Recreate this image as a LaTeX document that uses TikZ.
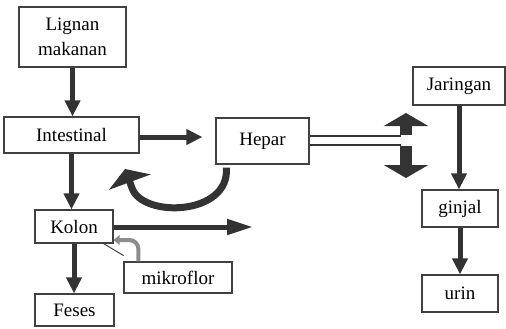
\documentclass[tikz,border=0pt]{standalone}
\usepackage{fontspec}
\setmainfont{Liberation Serif}
\usetikzlibrary{arrows.meta,calc}

\begin{document}
\begin{tikzpicture}[
  x=1pt, y=-1pt,
  font=\fontsize{19}{25}\selectfont,
  box/.style={draw=black!75, line width=1.2pt, align=center, inner sep=0pt},
  arrow/.style={-{Triangle[width=15pt,length=16pt]}, line width=5pt, draw=black!80},
  bigtip/.style={-{Triangle[width=44pt,length=13pt]}, line width=12pt, draw=black!80},
  curve/.style={-{Triangle[width=44pt,length=14pt]}, line width=7pt, draw=black!80},
  pipe/.style={line width=2pt, draw=black!80},
  flor/.style={-{Triangle[width=10pt,length=6pt]}, line width=4pt, draw=black!45, rounded corners=9pt},
  pointer/.style={draw=black!75, line width=1pt}
]
\useasboundingbox (0,0) rectangle (506,329);

% left column
\node[box, minimum width=107pt, minimum height=60pt] (Lignan) at (72.5,37) {Lignan\\makanan};
\node[box, minimum width=135pt, minimum height=36pt] (Intestinal) at (71.5,135) {Intestinal};
\node[box, minimum width=78pt, minimum height=33pt] (Kolon) at (74,226.5) {Kolon};
\node[box, minimum width=79pt, minimum height=32pt] (Feses) at (74.5,310) {Feses};
\node[box, minimum width=108pt, minimum height=31pt] (Mikroflor) at (178,277.5) {mikroflor};

% middle and right
\node[box, minimum width=93pt, minimum height=46pt] (Hepar) at (262.5,141) {Hepar};
\node[box, minimum width=92pt, minimum height=38pt] (Jaringan) at (459,86) {Jaringan};
\node[box, minimum width=76pt, minimum height=37pt] (Ginjal) at (460,208.5) {ginjal};
\node[box, minimum width=76pt, minimum height=37pt] (Urin) at (460,293.5) {urin};

\coordinate (KolonEnd) at (253,227);
\coordinate (BackTip) at (125,169);
\coordinate (UpFoot) at (406,136);
\coordinate (UpTip) at (406,113);
\coordinate (DownFoot) at (406,145);
\coordinate (DownTip) at (406,178);

\draw[arrow] (Lignan.south) -- (Lignan.south |- Intestinal.north);
\draw[arrow, shorten >=13pt] ([yshift=-2pt]Intestinal.east) -- ([yshift=-2pt]Intestinal.east -| Hepar.west);
\draw[arrow] (Intestinal.south) -- (Intestinal.south |- Kolon.north);
\draw[arrow] (Kolon.south) -- (Kolon.south |- Feses.north);
\draw[arrow, -{Triangle[width=15pt,length=26pt]}] (Kolon.east |- KolonEnd) -- (KolonEnd);
\draw[arrow] (Jaringan.south) -- (Jaringan.south |- Ginjal.north);
\draw[arrow] (Ginjal.south) -- (Ginjal.south |- Urin.north);

% hepar to tissue
\draw[pipe] (Hepar.east |- UpFoot) -- ([xshift=-5pt]UpFoot);
\draw[pipe] (Hepar.east |- DownFoot) -- ([xshift=-5pt]DownFoot);
\draw[bigtip] ([yshift=1pt]UpFoot) -- (UpTip);
\draw[bigtip] ([yshift=-1pt]DownFoot) -- (DownTip);

% back to intestine
\draw[curve] ($(Hepar.south west)+(11,3)$) .. controls (230,216) and (142,218) .. (132,188) -- (BackTip);

% mikroflor
\draw[pointer] ([xshift=-10pt]Kolon.south east) -- ++(20,12);
\draw[flor] ([xshift=15pt]Mikroflor.north west) |- ([yshift=-13.5pt]Kolon.east);
\end{tikzpicture}
\end{document}
